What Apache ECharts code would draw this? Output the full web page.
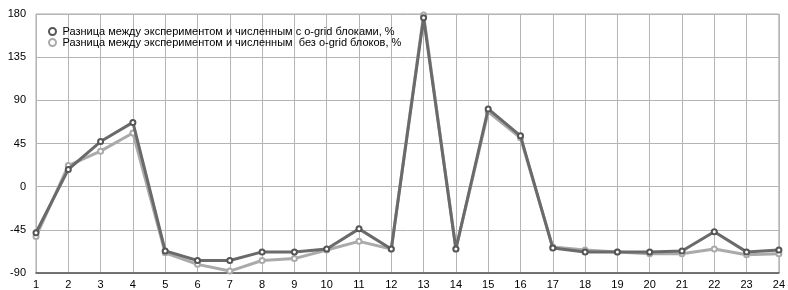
<!DOCTYPE html>
<html>
<head>
<meta charset="utf-8">
<script src="https://cdn.jsdelivr.net/npm/echarts@6/dist/echarts.min.js"></script>
<style>html,body{margin:0;padding:0;background:#fff;}#c{width:788px;height:290px;}</style>
</head>
<body>
<div id="c"></div>
<script>
const categories = ['1','2','3','4','5','6','7','8','9','10','11','12','13','14','15','16','17','18','19','20','21','22','23','24'];
const seriesNames = ['Разница между экспериментом и численным с o-grid блоками, %', 'Разница между экспериментом и численным  без o-grid блоков, %'];
const withOgrid = [-48, 18, 47, 67, -67, -77, -77, -68, -68, -65, -44, -65, 176, -65, 81, 53, -64, -68, -68, -68, -67, -47, -68, -66];
const withoutOgrid = [-52, 22, 37, 56, -69, -81, -88, -77, -75, -66, -57, -65, 179, -65, 78, 51, -63, -66, -68, -70, -70, -65, -71, -70];
const yTicks = [-90, -45, 0, 45, 90, 135, 180];

const chart = echarts.init(document.getElementById('c'), null, {renderer: 'canvas'});
const font = 'Liberation Sans, Arial, sans-serif';
chart.setOption({
  animation: false,
  backgroundColor: '#fff',
  grid: {left: 36, right: 6, top: 14, bottom: 15, show: true, borderColor: '#aaa', borderWidth: 1},
  legend: {
    left: 43, top: 21, orient: 'vertical', itemGap: 0, itemWidth: 10, itemHeight: 7,
    icon: 'emptyCircle',
    textStyle: {fontFamily: font, fontSize: 11, color: '#000'},
    data: [seriesNames[0], seriesNames[1]]
  },
  xAxis: {
    type: 'category', data: categories, boundaryGap: false,
    axisLine: {onZero: false, lineStyle: {color: '#555', width: 1.5}},
    axisTick: {show: false},
    axisLabel: {fontFamily: font, fontSize: 11, color: '#000', margin: 6, interval: 0},
    splitLine: {show: true, lineStyle: {color: '#b5b5b5', width: 1}}
  },
  yAxis: {
    type: 'value', min: yTicks[0], max: yTicks[yTicks.length - 1], interval: 45,
    axisLine: {show: false}, axisTick: {show: false},
    axisLabel: {fontFamily: font, fontSize: 11, color: '#000', margin: 10},
    splitLine: {lineStyle: {color: '#b5b5b5', width: 1}}
  },
  series: [
    {
      name: seriesNames[1], type: 'line', data: withoutOgrid, z: 2,
      symbol: 'emptyCircle', symbolSize: 5, showAllSymbol: true,
      lineStyle: {color: '#aaaaaa', width: 3},
      itemStyle: {color: '#aaaaaa', borderWidth: 1.2}
    },
    {
      name: seriesNames[0], type: 'line', data: withOgrid, z: 3,
      symbol: 'emptyCircle', symbolSize: 5, showAllSymbol: true,
      lineStyle: {color: '#6a6a6a', width: 3},
      itemStyle: {color: '#555555', borderWidth: 1.2}
    }
  ]
});
</script>
</body>
</html>
